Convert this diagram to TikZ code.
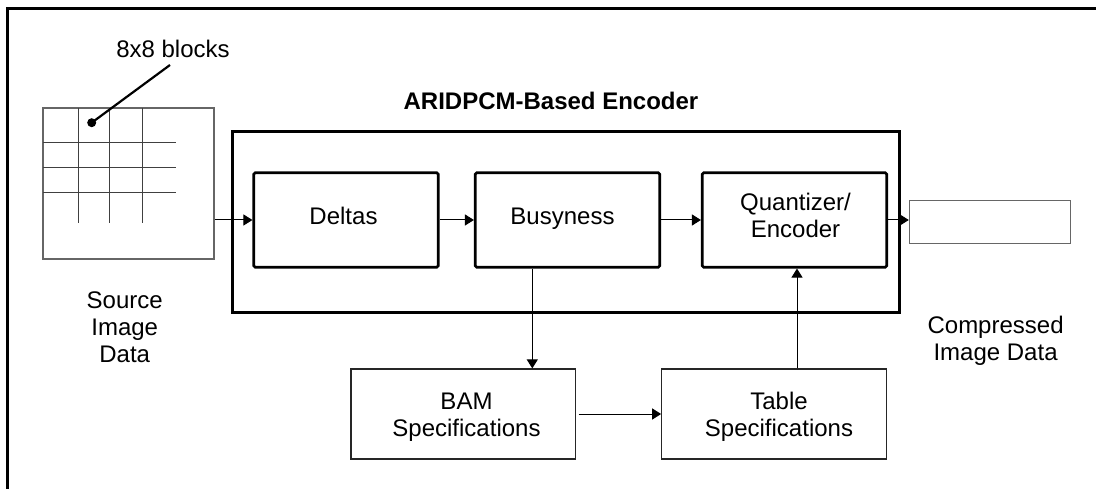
\documentclass[tikz,border=0pt]{standalone}
\usepackage{fontspec}
\setmainfont{Liberation Sans}
\usetikzlibrary{arrows.meta}
\begin{document}
\begin{tikzpicture}[x=1pt,y=-1pt,
  font=\fontsize{24}{27}\selectfont,
  heavybox/.style={draw,line width=2.6pt,rounded corners=1.5pt,minimum width=184.5pt,minimum height=94.5pt,inner sep=0pt},
  specbox/.style={draw=black!85,line width=1.2pt,minimum width=224.5pt,minimum height=90pt,inner sep=0pt},
  thinbox/.style={draw=black!60,line width=1.1pt,inner sep=0pt},
  gridline/.style={draw=black!75,line width=1pt},
  arr/.style={line width=1pt,-{Triangle[length=9pt,width=11pt]}},
  lbl/.style={align=center,inner sep=0pt,anchor=base}]
\useasboundingbox (0,0) rectangle (1096,489);

% outer frame (top and left edges)
\draw[line width=3pt] (7.5,489) -- (7.5,8.5) -- (1096,8.5);

% source image with its block grid
\node[thinbox,minimum width=171pt,minimum height=151pt] (src) at (128.5,183.5) {};
\foreach \gx in {78.7,109.3,142.7}
  \draw[gridline] (\gx,108) -- (\gx,223);
\foreach \gy in {142.3,167.7,192.7}
  \draw[gridline] (43,\gy) -- (175.7,\gy);
\fill (91.7,122.7) circle (4.5pt);
\coordinate (blk) at (91.7,122.7);
\coordinate (blklbl) at (170,65);
\draw[line width=2.2pt] (blk) -- (blklbl);
\node[lbl] (blocks) at (173,57.3) {8x8 blocks};
% multi-line labels are placed by the baseline of their last line
\node[lbl] (srclbl) at (124.7,362.7) {Source\\Image\\Data};

% encoder block
\node[draw,line width=3pt,minimum width=667pt,minimum height=181pt,inner sep=0pt] (enc) at (565.5,222.5) {};
\node[lbl,font=\fontsize{24}{27}\selectfont\bfseries] (title) at (551,110) {ARIDPCM-Based Encoder};

\node[heavybox] (deltas) at (346,220) {};
\node[heavybox] (busy) at (567.5,220) {};
\node[heavybox] (quant) at (794.5,220) {};
\node[lbl] (deltas-t) at (343.5,225) {Deltas};
\node[lbl] (busy-t) at (562.5,225) {Busyness};
\node[lbl] (quant-t) at (795.5,237.3) {Quantizer/\\Encoder};

% output
\node[thinbox,minimum width=160.7pt,minimum height=43.3pt] (out) at (989.7,222.3) {};
\node[lbl] (outlbl) at (995.6,360.7) {Compressed\\Image Data};

% specification tables
\node[specbox] (bam) at (463.2,414) {};
\node[specbox] (table) at (774,414) {};
\node[lbl] (bam-t) at (466.5,436.7) {BAM\\Specifications};
\node[lbl] (table-t) at (779,436.7) {Table\\Specifications};

% connectors
\draw[arr] (src.east |- deltas.west) -- (deltas.west);
\draw[arr] (deltas.east) -- (busy.west);
\draw[arr] (busy.east) -- (quant.west);
\draw[arr] (quant.east) -- (quant.east -| out.west);
\coordinate (bx) at (532.3,0);
\coordinate (tx) at (797,0);
\draw[arr] (busy.south -| bx) -- (bam.north -| bx);
\draw[arr] ([xshift=2.5pt]bam.east) -- (table.west);
\draw[arr] (table.north -| tx) -- (quant.south -| tx);
\end{tikzpicture}
\end{document}
